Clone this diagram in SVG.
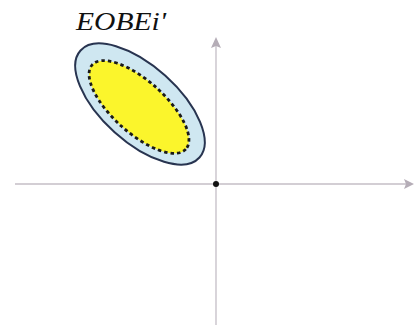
<svg xmlns="http://www.w3.org/2000/svg" width="414" height="327" viewBox="0 0 414 327">
<style>
.axis{stroke:#c4bec6;stroke-width:1.3;fill:none}
.ah{fill:#b5adb7}
.title{font-family:"Liberation Serif",serif;font-style:italic;font-size:25px;fill:#111}
</style>
<rect width="414" height="327" fill="#fff"/>
<g id="connectors">
<line class="axis" x1="15" y1="184" x2="410" y2="184"/>
<path class="ah" d="M414,184 L404,179 L406,184 L404,189 Z"/>
<line class="axis" x1="216" y1="44" x2="216" y2="325"/>
<path class="ah" d="M216,37 L211,48 L216,46 L221,48 Z"/>
</g>
<g id="outer-ellipse">
<ellipse cx="140" cy="104" rx="80" ry="38" transform="rotate(42 140 104)" fill="#cfe7f1" stroke="#283450" stroke-width="2"/>
</g>
<g id="inner-ellipse">
<ellipse cx="139" cy="107" rx="63" ry="26" transform="rotate(42 139 107)" fill="#fbf52c" stroke="#1a1a1a" stroke-width="2.8" stroke-dasharray="3.5 3"/>
</g>
<g id="origin">
<circle cx="216" cy="184" r="3" fill="#111"/>
</g>
<g id="title">
<text class="title" x="76" y="30" textLength="90" lengthAdjust="spacingAndGlyphs">EOBEi'</text>
</g>
</svg>
